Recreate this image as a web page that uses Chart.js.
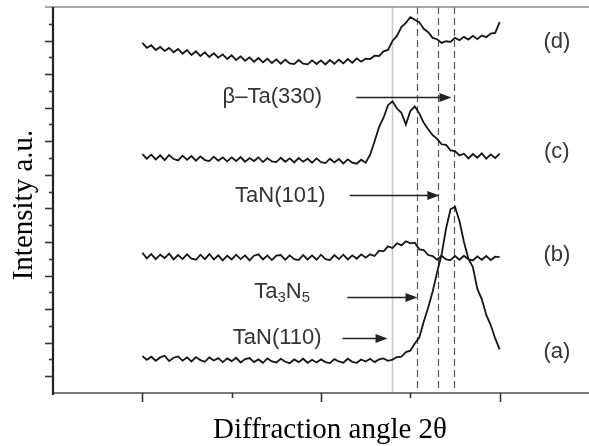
<!DOCTYPE html>
<html>
<head>
<meta charset="utf-8">
<script src="https://cdn.jsdelivr.net/npm/chart.js@4.4.0/dist/chart.umd.min.js"></script>
<style>
html,body{margin:0;padding:0;background:#fff;}
canvas{display:block;}
</style>
</head>
<body>
<canvas id="c" width="589" height="446"></canvas>
<script>
// Diffraction angle (2θ, arbitrary degrees) sampled points
const angles = [32.0,32.1,32.2,32.3,32.4,32.5,32.6,32.7,32.8,32.9,
33.0,33.1,33.2,33.3,33.4,33.5,33.6,33.7,33.8,33.9,
34.0,34.1,34.2,34.3,34.4,34.5,34.6,34.7,34.8,34.9,
35.0,35.1,35.2,35.3,35.4,35.5,35.6,35.7,35.8,35.9,
36.0,36.1,36.2,36.3,36.4,36.5,36.6,36.7,36.8,36.9,
37.0,37.1,37.2,37.3,37.4,37.5,37.6,37.7,37.8,37.9,
38.0,38.1,38.2,38.3,38.4,38.5,38.6,38.7,38.8,38.9,
39.0,39.1,39.2,39.3,39.4,39.5,39.6,39.7,39.8,39.9,40.0];

// Intensity (offset, a.u.)
const seriesA = [2.20,1.98,2.16,1.92,2.12,2.22,1.90,2.10,2.18,1.93,
2.12,1.88,2.14,1.96,1.86,2.12,1.94,2.08,1.84,2.06,
1.90,2.10,1.82,2.02,2.08,1.84,2.00,1.80,2.06,1.88,
1.82,2.04,1.86,1.78,2.00,1.84,2.04,1.80,1.98,1.82,
2.00,1.84,1.78,2.02,1.88,1.80,2.04,1.86,1.80,2.00,
1.88,2.04,1.84,2.00,2.06,1.92,1.99,2.14,2.16,2.44,
2.52,2.95,3.30,4.25,5.10,6.05,7.20,8.25,9.80,10.95,
11.10,10.25,9.00,8.00,7.50,6.20,5.60,4.65,4.05,3.25,2.60];

const seriesB = [8.36,8.02,8.28,7.98,8.24,8.04,8.30,7.96,8.22,7.98,
8.26,8.00,7.94,8.24,7.98,8.28,7.96,8.20,7.90,8.18,
7.96,8.24,7.98,8.20,7.90,8.18,8.26,7.96,8.20,7.92,
8.18,8.22,7.94,8.20,7.98,7.92,8.22,7.96,8.20,7.94,
8.24,7.98,7.92,8.22,7.98,8.24,7.96,8.20,8.00,8.26,
8.06,8.26,8.16,8.48,8.44,8.74,8.64,8.92,8.80,9.04,
8.92,8.96,8.56,8.52,8.22,8.16,7.94,8.18,7.96,7.92,
8.16,7.94,8.18,7.96,7.90,8.14,7.94,8.16,7.92,8.12,8.10];

const seriesC = [14.24,13.96,14.20,13.92,14.16,13.88,14.18,13.94,13.86,14.14,
13.90,14.12,13.84,14.10,13.88,13.82,14.08,13.84,14.04,13.80,
14.04,13.82,14.06,13.78,14.00,13.82,14.04,13.76,14.00,13.80,
13.76,14.02,13.78,13.98,13.74,14.00,13.78,13.96,13.72,13.98,
13.76,13.70,13.96,13.74,13.94,13.68,13.92,13.72,13.66,13.90,
13.72,14.20,15.00,15.85,16.40,17.15,17.38,16.95,16.70,16.00,
16.80,17.08,16.66,16.10,15.72,15.36,15.14,14.82,14.78,14.46,
14.42,14.16,14.26,13.98,14.24,14.02,14.28,13.96,14.22,14.00,14.26];

const seriesD = [20.86,20.56,20.72,20.44,20.62,20.38,20.56,20.30,20.50,20.22,
20.44,20.14,20.36,20.08,20.30,20.02,20.24,19.98,20.18,19.90,
20.12,19.84,20.06,19.80,20.00,19.74,19.96,19.70,19.92,19.66,
19.88,19.62,19.86,19.64,19.60,19.84,19.62,19.58,19.82,19.60,
19.82,19.58,19.84,19.62,19.86,19.64,19.90,19.68,19.94,19.74,
19.92,19.90,20.10,20.08,20.36,20.44,20.98,21.28,21.80,22.06,
22.40,22.24,22.10,21.70,21.50,21.16,21.08,20.86,20.96,20.92,
21.16,21.02,21.22,21.06,21.28,21.08,21.30,21.20,21.42,21.46,22.10];

const seriesNames = ["(a)","(b)","(c)","(d)"];
const xTicks = [32,34,36,38,40];
const xMajor = [true,false,true,false,true];
const yTicks = [1,2,3,4,5,6,7,8,9,10,11,12,13,14,15,16,17,18,19,20,21,22];
const peakLines = [37.6,38.16,38.63,38.97];
const peakDashed = [false,true,true,true];

function pts(ys){ return angles.map((a,i)=>({x:a,y:ys[i]})); }

const annotations = [
  {text:"β–Ta(330)", tx:34.91, ty:17.64, ax1:36.79, ax2:38.92},
  {text:"TaN(101)", tx:35.09, ty:11.74, ax1:36.64, ax2:38.65, ay:11.8},
  {text:"Ta3N5", tx:35.13, ty:6.02, ax1:36.59, ax2:38.16, ay:5.72, sub:true},
  {text:"TaN(110)", tx:35.02, ty:3.28, ax1:36.48, ax2:37.49}
];
const seriesLabelPos = [
  {x:41.28,y:2.44},{x:41.28,y:8.22},{x:41.28,y:14.36},{x:41.28,y:20.92}
];

const decor = {
  id:'decor',
  beforeDatasetsDraw(chart){
    const {ctx, chartArea:ca, scales:{x}} = chart;
    ctx.save();
    peakLines.forEach((v,i)=>{
      const px = Math.round(x.getPixelForValue(v))+0.5;
      ctx.beginPath();
      if(peakDashed[i]){ ctx.setLineDash([7,4]); ctx.strokeStyle='#555'; ctx.lineWidth=1.2; }
      else { ctx.setLineDash([]); ctx.strokeStyle='#c8c8c8'; ctx.lineWidth=1.6; }
      ctx.moveTo(px, ca.top); ctx.lineTo(px, ca.bottom);
      ctx.stroke();
    });
    ctx.restore();
  },
  afterDatasetsDraw(chart){
    const {ctx, chartArea:ca, scales:{x,y}} = chart;
    ctx.save();
    ctx.setLineDash([]);
    ctx.strokeStyle='#8a8a8a'; ctx.lineWidth=1.6;
    ctx.beginPath(); ctx.moveTo(45, ca.top); ctx.lineTo(ca.right, ca.top); ctx.stroke();
    ctx.strokeStyle='#7a7a7a'; ctx.lineWidth=2;
    ctx.beginPath(); ctx.moveTo(ca.left, ca.bottom); ctx.lineTo(ca.right, ca.bottom); ctx.stroke();
    ctx.strokeStyle='#222'; ctx.lineWidth=2.2;
    ctx.beginPath(); ctx.moveTo(ca.left, ca.top); ctx.lineTo(ca.left, ca.bottom+2); ctx.stroke();
    ctx.strokeStyle='#333'; ctx.lineWidth=1.6;
    yTicks.forEach(v=>{
      const py = Math.round(y.getPixelForValue(v))+0.5;
      const len = (v%2===1)?8:4;
      ctx.beginPath(); ctx.moveTo(ca.left, py); ctx.lineTo(ca.left-len, py); ctx.stroke();
    });
    xTicks.forEach((v,i)=>{
      const px = Math.round(x.getPixelForValue(v))+0.5;
      const len = xMajor[i]?9:5;
      ctx.beginPath(); ctx.moveTo(px, ca.bottom); ctx.lineTo(px, ca.bottom+len); ctx.stroke();
    });
    ctx.fillStyle='#333'; ctx.strokeStyle='#222';
    const af = '22px "Liberation Sans", Arial, sans-serif';
    annotations.forEach(a=>{
      const tx = x.getPixelForValue(a.tx), ty = y.getPixelForValue(a.ty);
      ctx.font = af; ctx.textBaseline='middle'; ctx.fillStyle='#333';
      if(a.sub){
        const big = af, small = '15px "Liberation Sans", Arial, sans-serif';
        const parts = [["Ta",big,0],["3",small,6],["N",big,0],["5",small,6]];
        let w=0; parts.forEach(p=>{ctx.font=p[1]; w+=ctx.measureText(p[0]).width;});
        let cx = tx - w/2;
        ctx.textAlign='left';
        parts.forEach(p=>{ctx.font=p[1]; ctx.fillText(p[0], cx, ty+p[2]); cx+=ctx.measureText(p[0]).width;});
      } else {
        ctx.textAlign='center';
        ctx.fillText(a.text, tx, ty);
      }
      const ay = Math.round(y.getPixelForValue(a.ay!==undefined?a.ay:a.ty))+0.5;
      const x1 = x.getPixelForValue(a.ax1), x2 = x.getPixelForValue(a.ax2);
      ctx.lineWidth=1.5; ctx.fillStyle='#222';
      ctx.beginPath(); ctx.moveTo(x1, ay); ctx.lineTo(x2-8, ay); ctx.stroke();
      ctx.beginPath(); ctx.moveTo(x2, ay); ctx.lineTo(x2-12, ay-4.5); ctx.lineTo(x2-12, ay+4.5); ctx.closePath(); ctx.fill();
    });
    ctx.font = af; ctx.textAlign='center'; ctx.textBaseline='middle'; ctx.fillStyle='#333';
    seriesNames.forEach((n,i)=>{
      ctx.fillText(n, x.getPixelForValue(seriesLabelPos[i].x), y.getPixelForValue(seriesLabelPos[i].y));
    });
    ctx.fillStyle='#000';
    ctx.font = '29px "Liberation Serif", "Times New Roman", serif';
    ctx.textAlign='center'; ctx.textBaseline='alphabetic';
    ctx.fillText('Diffraction angle 2θ', 330, 438);
    ctx.translate(32, 205); ctx.rotate(-Math.PI/2);
    ctx.fillText('Intensity a.u.', 0, 0);
    ctx.restore();
  }
};

const mk = (ys)=>({data:pts(ys), borderColor:'#151515', borderWidth:1.8, pointRadius:0, tension:0, fill:false});

new Chart(document.getElementById('c'), {
  type:'line',
  data:{datasets:[mk(seriesA),mk(seriesB),mk(seriesC),mk(seriesD)]},
  options:{
    responsive:false, animation:false, devicePixelRatio:1,
    layout:{padding:{left:53, top:7, right:0, bottom:53}},
    plugins:{legend:{display:false}, tooltip:{enabled:false}},
    scales:{
      x:{type:'linear', min:30, max:42, display:false},
      y:{type:'linear', min:0, max:23, display:false}
    }
  },
  plugins:[decor]
});
</script>
</body>
</html>
